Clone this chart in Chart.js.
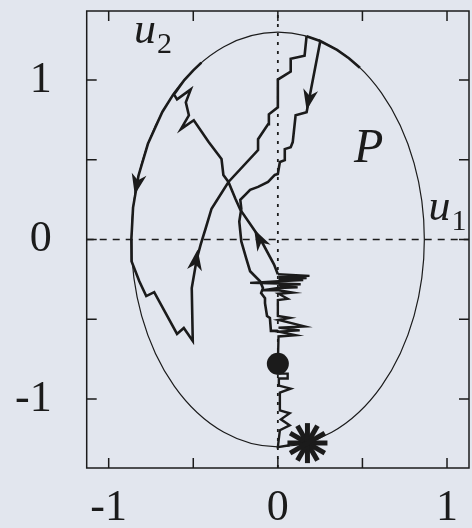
<!DOCTYPE html>
<html>
<head>
<meta charset="utf-8">
<script src="https://cdn.jsdelivr.net/npm/chart.js@4.4.1/dist/chart.umd.min.js"></script>
<style>
  html, body { margin: 0; padding: 0; background: #e2e6ee; overflow: hidden; }
  #wrap { width: 472px; height: 528px; overflow: hidden; position: relative; }
  #phase { display: block; position: absolute; left: 0; top: 0; width: 480px; height: 528px; }
</style>
</head>
<body>
<div id="wrap"><canvas id="phase" width="480" height="528"></canvas></div>
<script>
// axis ranges and ticks
const xRange = [-1.13, 1.13];
const yRange = [-1.433, 1.433];
const xTickLabels = [-1, 0, 1];
const yTickLabels = [-1, 0, 1];
const xTickMarks = [-1, -0.5, 0, 0.5, 1];
const yTickMarks = [-1, -0.5, 0, 0.5, 1];

// region P: centre x, centre y, half width, half height
const ellipseP = [0, 0, 0.866, 1.3];

// trajectory going up-left, down the boundary, then up to the top
const loopPath = [
  [0, -0.218], [-0.023, -0.156], [-0.105, 0.006], [-0.222, 0.187], [-0.251, 0.255],
  [-0.292, 0.361], [-0.322, 0.405], [-0.333, 0.505], [-0.409, 0.611], [-0.497, 0.748],
  [-0.573, 0.692], [-0.526, 0.779], [-0.544, 0.860], [-0.515, 0.941], [-0.596, 0.879],
  [-0.614, 0.910], [-0.553, 1.0], [-0.50, 1.061], [-0.452, 1.109], [-0.50, 1.061],
  [-0.553, 1.0], [-0.618, 0.91], [-0.683, 0.8], [-0.768, 0.6], [-0.824, 0.4],
  [-0.856, 0.2], [-0.866, 0], [-0.865, -0.137], [-0.819, -0.262], [-0.778, -0.355],
  [-0.731, -0.330], [-0.596, -0.592], [-0.556, -0.555], [-0.503, -0.636], [-0.509, -0.305],
  [-0.480, -0.125], [-0.456, -0.031], [-0.427, 0.069], [-0.392, 0.193], [-0.292, 0.361],
  [-0.117, 0.561], [-0.117, 0.629], [-0.058, 0.723], [-0.053, 0.785], [0, 0.829],
  [0, 1.003], [0.076, 1.053], [0.076, 1.134], [0.158, 1.153], [0.170, 1.277]
];

// slide along the top of P, then the staircase back down to u1 = 0
const descentPath = [
  [0.170, 1.275], [0.25, 1.245], [0.35, 1.189], [0.42, 1.137], [0.485, 1.077],
  [0.42, 1.137], [0.35, 1.189], [0.251, 1.245], [0.170, 0.798], [0.105, 0.779],
  [0.088, 0.611], [0.076, 0.579], [0.041, 0.567], [0.041, 0.498], [0.012, 0.486],
  [0, 0.411], [-0.018, 0.405], [-0.058, 0.361], [-0.117, 0.330], [-0.164, 0.312],
  [-0.193, 0.280], [-0.222, 0.249], [-0.216, 0.193], [-0.228, 0.112], [-0.216, -0.012],
  [-0.187, -0.118], [-0.164, -0.199], [-0.105, -0.262], [-0.088, -0.305], [-0.099, -0.336],
  [-0.076, -0.368], [-0.076, -0.399], [-0.064, -0.480], [-0.047, -0.492], [-0.041, -0.573],
  [0, -0.573]
];

// chattering along u1 = 0 (spikes go out and come back)
const spinePath = [
  [0, -0.218], [0.187, -0.228], [0.004, -0.236], [0.170, -0.242], [0.004, -0.250],
  [0.150, -0.255], [0.004, -0.262], [-0.164, -0.272], [0.004, -0.276], [0.135, -0.281],
  [0.004, -0.288], [0.117, -0.300], [0.004, -0.304], [-0.088, -0.318], [0.004, -0.318],
  [0.088, -0.333], [0.004, -0.340], [0.058, -0.372], [0, -0.380], [0, -0.480],
  [0.070, -0.492], [0.004, -0.505], [0.158, -0.545], [0.004, -0.553], [0.129, -0.570],
  [0.004, -0.578], [0.105, -0.600], [0.004, -0.608], [0, -0.779], [0, -0.841],
  [0.058, -0.841], [0.058, -0.872], [0.006, -0.872], [0.006, -0.916], [0.076, -0.935],
  [0.012, -0.960], [0.012, -1.072], [0.070, -1.090], [0.018, -1.128], [0.070, -1.165],
  [0.012, -1.196], [0, -1.302], [0.070, -1.290]
];

// arrow tips and a point behind each tip on the same line
const arrowTips = [
  [0.170, 0.81, 0.251, 1.245],
  [-0.846, 0.28, -0.812, 0.45],
  [-0.474, -0.062, -0.509, -0.305],
  [-0.140, 0.062, 0, -0.218]
];

const dotPoint = [0, -0.779];
const starPoint = [0.175, -1.277];

const ink = '#1b1b1b';
const serif = "'Liberation Serif', 'DejaVu Serif', serif";

const toXY = pts => pts.map(p => ({ x: p[0], y: p[1] }));

function arrowHead(ctx, tx, ty, fx, fy) {
  const ang = Math.atan2(ty - fy, tx - fx);
  ctx.save();
  ctx.translate(tx, ty);
  ctx.rotate(ang);
  ctx.beginPath();
  ctx.moveTo(0, 0);
  ctx.lineTo(-21, -7.5);
  ctx.lineTo(-15, 0);
  ctx.lineTo(-21, 7.5);
  ctx.closePath();
  ctx.fill();
  ctx.restore();
}

const noPad = s => {
  s.paddingTop = 0; s.paddingBottom = 0; s.paddingLeft = 0; s.paddingRight = 0;
};

const phasePlugin = {
  id: 'phase',
  beforeDatasetsDraw(chart) {
    const { ctx, scales: { x, y } } = chart;
    const cx = x.getPixelForValue(ellipseP[0]);
    const cy = y.getPixelForValue(ellipseP[1]);
    const rx = x.getPixelForValue(ellipseP[0] + ellipseP[2]) - cx;
    const ry = cy - y.getPixelForValue(ellipseP[1] + ellipseP[3]);
    ctx.save();
    ctx.beginPath();
    ctx.ellipse(cx, cy, rx, ry, 0, 0, Math.PI * 2);
    ctx.lineWidth = 1.2;
    ctx.strokeStyle = ink;
    ctx.stroke();
    ctx.restore();
  },
  afterDatasetsDraw(chart) {
    const { ctx, chartArea: a, scales: { x, y } } = chart;
    ctx.save();
    ctx.fillStyle = ink;
    ctx.strokeStyle = ink;

    arrowTips.forEach(t => {
      arrowHead(ctx, x.getPixelForValue(t[0]), y.getPixelForValue(t[1]),
        x.getPixelForValue(t[2]), y.getPixelForValue(t[3]));
    });

    // asterisk marker
    const sx = x.getPixelForValue(starPoint[0]);
    const sy = y.getPixelForValue(starPoint[1]);
    ctx.lineWidth = 5;
    ctx.lineCap = 'butt';
    for (let k = 0; k < 6; k++) {
      const ang = k * Math.PI / 6;
      ctx.beginPath();
      ctx.moveTo(sx - 20 * Math.cos(ang), sy - 20 * Math.sin(ang));
      ctx.lineTo(sx + 20 * Math.cos(ang), sy + 20 * Math.sin(ang));
      ctx.stroke();
    }

    // frame and inward ticks
    ctx.lineWidth = 1.5;
    ctx.strokeRect(a.left, a.top, a.right - a.left, a.bottom - a.top);
    ctx.beginPath();
    xTickMarks.forEach(v => {
      const px = x.getPixelForValue(v);
      ctx.moveTo(px, a.bottom); ctx.lineTo(px, a.bottom - 10);
      ctx.moveTo(px, a.top); ctx.lineTo(px, a.top + 10);
    });
    yTickMarks.forEach(v => {
      const py = y.getPixelForValue(v);
      ctx.moveTo(a.left, py); ctx.lineTo(a.left + 10, py);
      ctx.moveTo(a.right, py); ctx.lineTo(a.right - 10, py);
    });
    ctx.stroke();

    // labels
    ctx.textBaseline = 'alphabetic';
    ctx.textAlign = 'left';
    const mathLabel = (base, sub, vx, vy, size) => {
      const px = x.getPixelForValue(vx), py = y.getPixelForValue(vy);
      ctx.font = 'italic ' + size + 'px ' + serif;
      ctx.fillText(base, px, py);
      if (sub) {
        const w = ctx.measureText(base).width;
        ctx.font = '30px ' + serif;
        ctx.fillText(sub, px + w + 1, py + 10);
      }
    };
    mathLabel('u', '2', -0.85, 1.234, 44);
    mathLabel('P', '', 0.45, 0.486, 48);
    mathLabel('u', '1', 0.89, 0.125, 44);
    ctx.restore();
  }
};

new Chart(document.getElementById('phase'), {
  type: 'scatter',
  data: {
    datasets: [
      {
        data: toXY([[xRange[0], 0], [xRange[1], 0]]),
        showLine: true, borderColor: ink, borderWidth: 1.6, borderDash: [7, 6],
        pointRadius: 0, order: 5
      },
      {
        data: toXY([[0, yRange[0]], [0, yRange[1]]]),
        showLine: true, borderColor: ink, borderWidth: 1.8, borderDash: [3, 6],
        pointRadius: 0, order: 4
      },
      {
        data: toXY(loopPath),
        showLine: true, borderColor: ink, borderWidth: 2.6, pointRadius: 0, order: 3
      },
      {
        data: toXY(descentPath),
        showLine: true, borderColor: ink, borderWidth: 2.6, pointRadius: 0, order: 2
      },
      {
        data: toXY(spinePath),
        showLine: true, borderColor: ink, borderWidth: 2.4, pointRadius: 0, order: 1
      },
      {
        data: toXY([dotPoint]),
        pointRadius: 11, backgroundColor: ink, borderWidth: 0, order: 0
      }
    ]
  },
  options: {
    responsive: false,
    animation: false,
    layout: { padding: { top: 8, right: 7, left: 0, bottom: 0 } },
    plugins: { legend: { display: false }, tooltip: { enabled: false } },
    scales: {
      x: {
        type: 'linear', min: xRange[0], max: xRange[1],
        grid: { display: false, drawTicks: false },
        border: { display: false },
        afterBuildTicks: s => { s.ticks = xTickLabels.map(v => ({ value: v })); },
        afterFit: s => { s.height = 60; noPad(s); },
        ticks: {
          padding: 14, color: ink, maxRotation: 0,
          font: { family: serif, size: 44 },
          callback: v => String(v)
        }
      },
      y: {
        type: 'linear', min: yRange[0], max: yRange[1],
        grid: { display: false, drawTicks: false },
        border: { display: false },
        afterBuildTicks: s => { s.ticks = yTickLabels.map(v => ({ value: v })); },
        afterFit: s => { s.width = 86.7; noPad(s); },
        ticks: {
          padding: 35, color: ink,
          font: { family: serif, size: 44 },
          callback: v => String(v)
        }
      }
    }
  },
  plugins: [phasePlugin]
});
</script>
</body>
</html>
